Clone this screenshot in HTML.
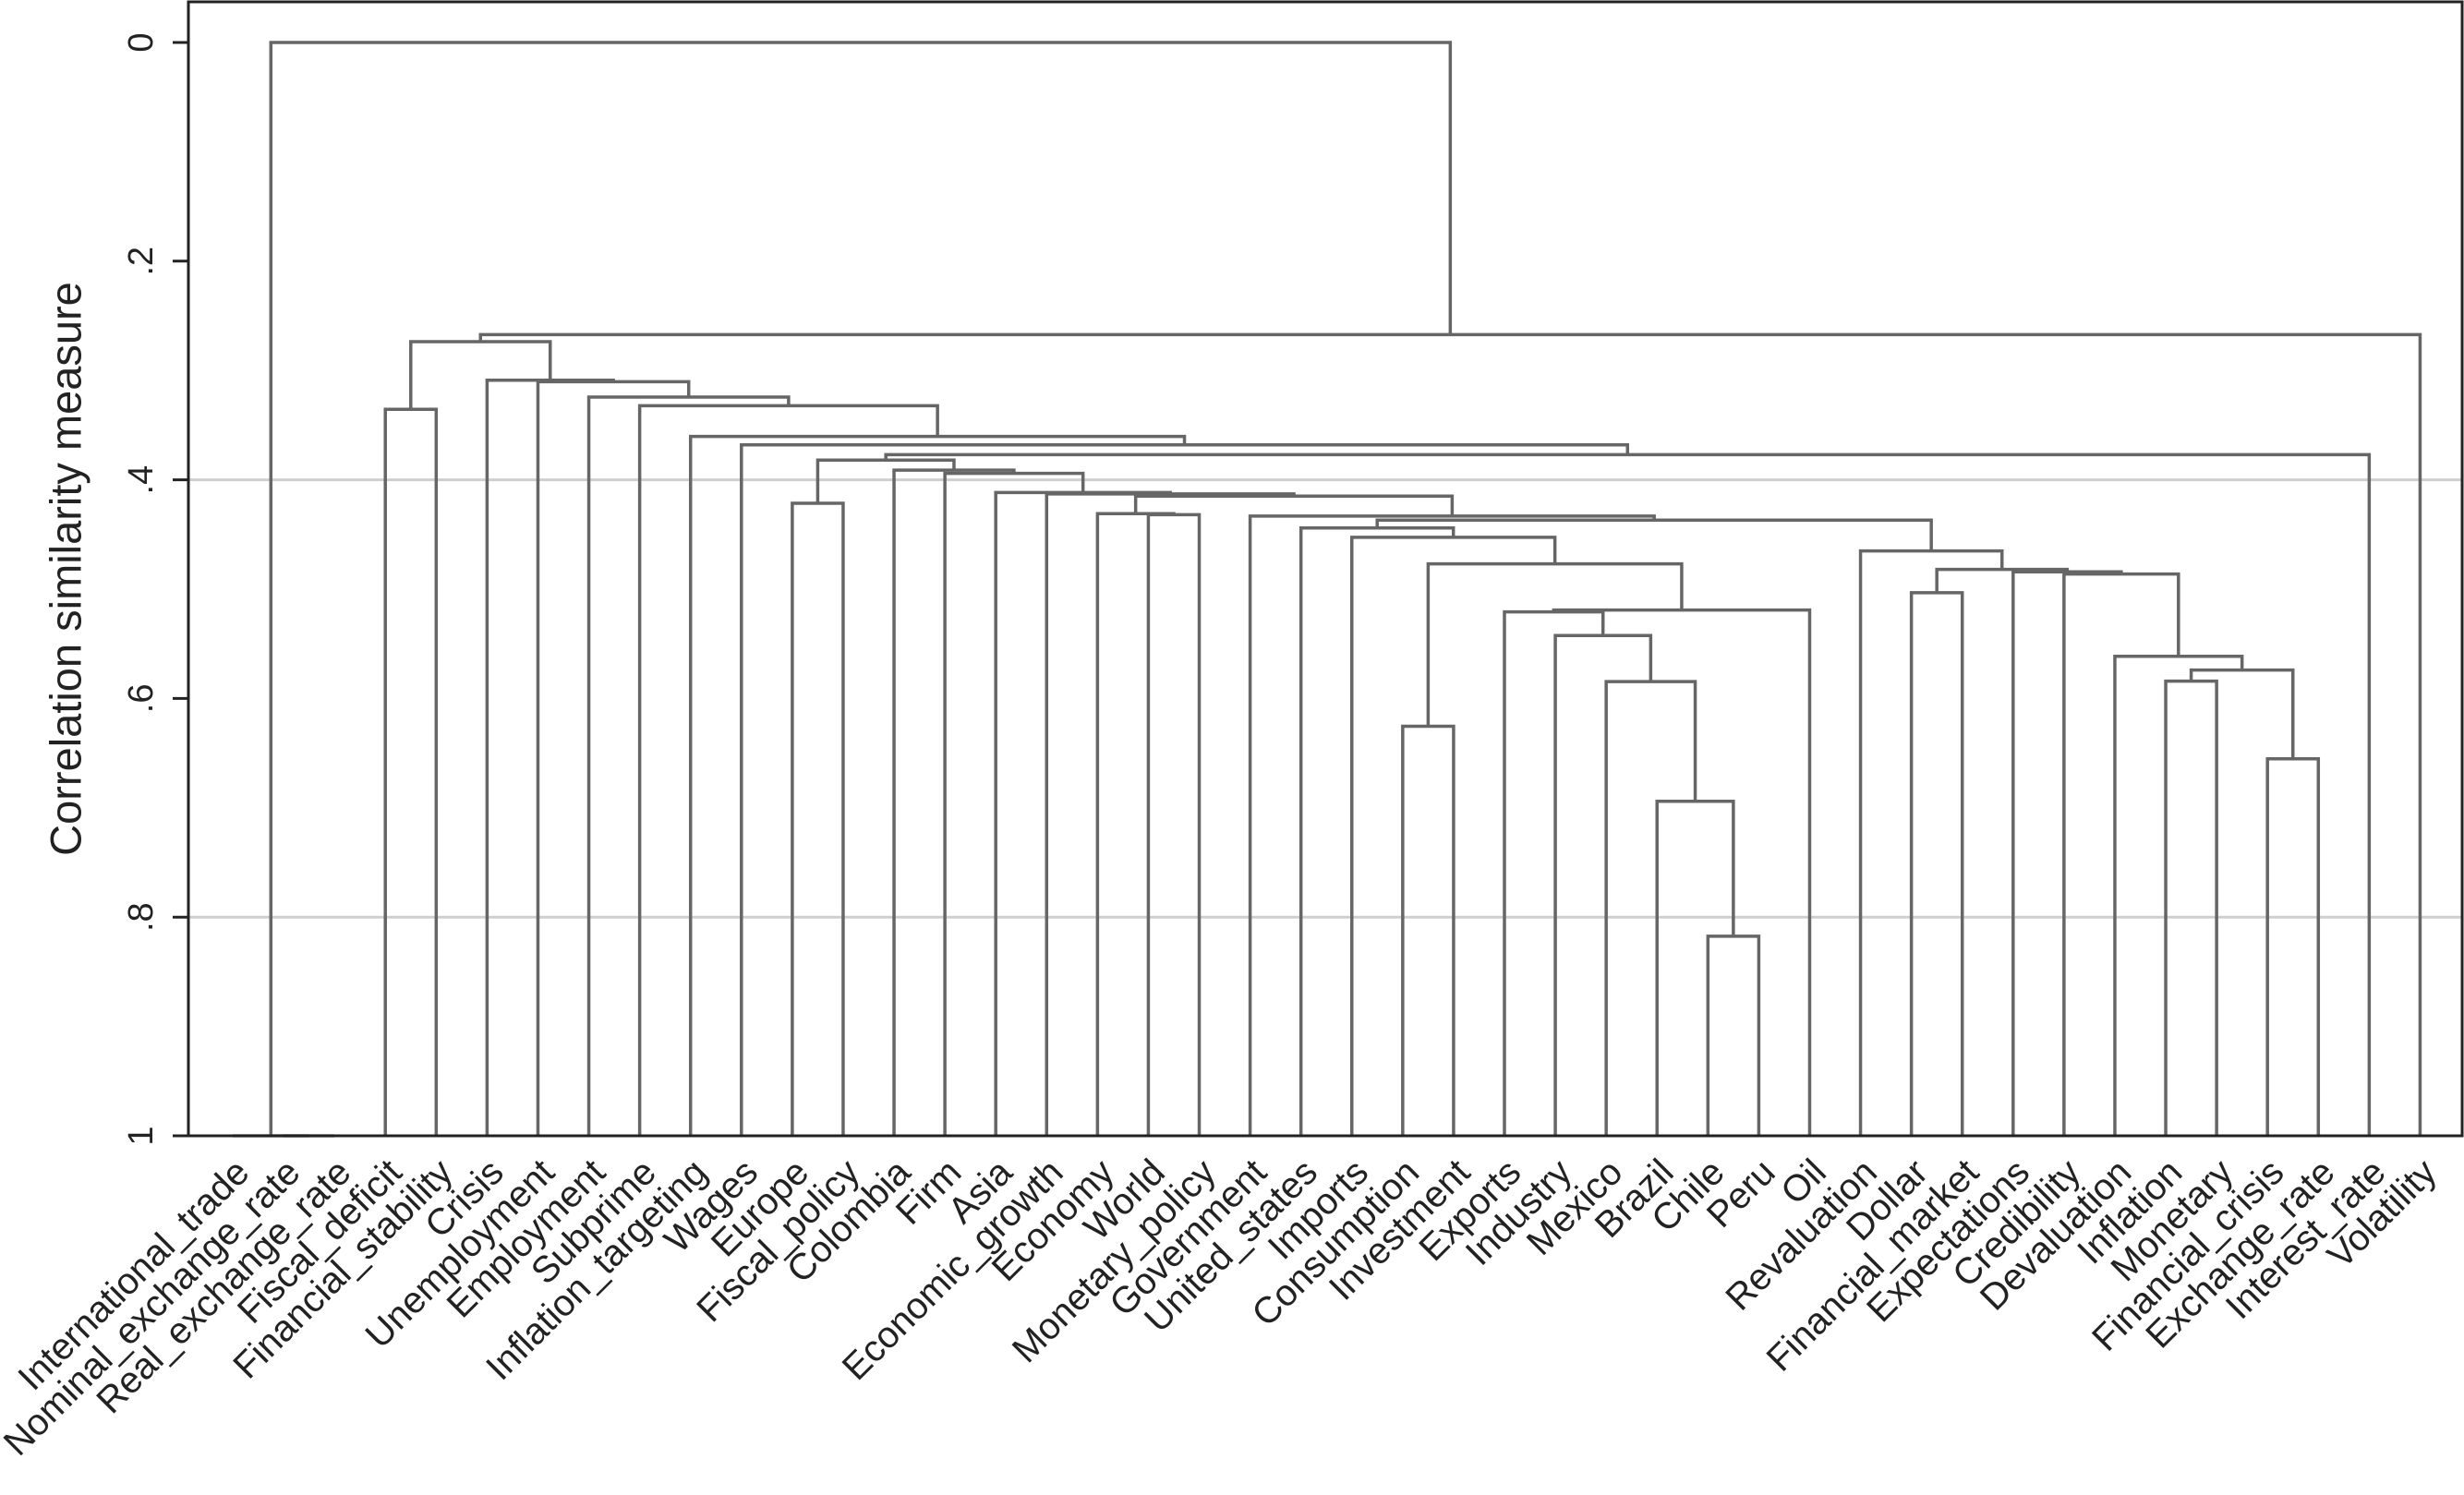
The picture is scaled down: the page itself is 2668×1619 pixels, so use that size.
<!DOCTYPE html>
<html><head><meta charset="utf-8"><style>
html,body{margin:0;padding:0;background:#fff;}
svg{display:block;font-family:"Liberation Sans",Arial,sans-serif;}
</style></head><body>
<svg id="chart" width="2668" height="1619" viewBox="0 0 2668 1619" xmlns="http://www.w3.org/2000/svg">
<rect x="0" y="0" width="2668" height="1619" fill="#fff"/>
<g id="grid"></g>
<g id="tree"></g>
<g id="axes"></g>
<g id="labels"></g>
<text x="0" y="0" transform="translate(71,616) rotate(-90)" text-anchor="middle" dominant-baseline="central" font-size="47" fill="#222">Correlation similarity measure</text>
</svg>
<script>
const leafLabels = ["International_trade","Nominal_exchange_rate","Real_exchange_rate","Fiscal_deficit","Financial_stability","Crisis","Unemployment","Employment","Subprime","Inflation_targeting","Wages","Europe","Fiscal_policy","Colombia","Firm","Asia","Economic_growth","Economy","World","Monetary_policy","Government","United_states","Imports","Consumption","Investment","Exports","Industry","Mexico","Brazil","Chile","Peru","Oil","Revaluation","Dollar","Financial_market","Expectations","Credibility","Devaluation","Inflation","Monetary","Financial_crisis","Exchange_rate","Interest_rate","Volatility"];
const mergeNames  = ["NR","IT","FP","J","WM","P","W","CC","BB","AA","Z","Y","X","V","U","S","EE","KK","JJ","II","HH","GG","FF","DD","T","R","Q","O","N","M","L","K","I","H","G","F","E","D","C","B","A","TOP","ROOT"];
const mergeLeft   = [1,0,3,11,18,17,23,29,28,27,26,25,"Y","W",22,21,33,40,38,"JJ",37,36,35,"EE",32,"S",20,"P",16,15,14,13,"J","I",10,9,8,7,6,5,"FP","A","IT"];
const mergeRight  = [2,"NR",4,12,19,"WM",24,30,"CC","BB","AA","Z",31,"X","V","U",34,41,39,"KK","II","HH","GG","FF","DD","T","R","Q","O","N","M","L","K",42,"H","G","F","E","D","C","B",43,"TOP"];
const mergeHeight = [1.0,1.0,0.3355,0.4214,0.4319,0.4310,0.6254,0.8175,0.6940,0.5846,0.5424,0.5208,0.5191,0.4769,0.4526,0.4440,0.5033,0.6552,0.5841,0.5740,0.5614,0.4862,0.4842,0.4819,0.4651,0.4369,0.4332,0.4149,0.4129,0.4116,0.3941,0.3912,0.3820,0.3770,0.3680,0.3603,0.3322,0.3243,0.3103,0.3089,0.2737,0.2672,0];
const yTickValues = [0,0.2,0.4,0.6,0.8,1];
const yTickLabels = ["0",".2",".4",".6",".8","1"];
const gridValues = [0.4,0.8];

const NS="http://www.w3.org/2000/svg";
const X0=204, X1=2666, Y0=46, YS=1184, LX0=252, LDX=55.08;
function xLeaf(i){return LX0+LDX*i;}
function yScale(v){return Y0+v*YS;}
function mk(tag,attrs,parent){const e=document.createElementNS(NS,tag);for(const k in attrs)e.setAttribute(k,attrs[k]);parent.appendChild(e);return e;}

const grid=document.getElementById('grid');
gridValues.forEach(v=>{
  const l=mk('line',{x1:X0,x2:X1,y1:yScale(v),y2:yScale(v),stroke:'#cfcfcf','stroke-width':3},grid);
  
  
});

// node positions
const pos={};
for(let i=0;i<leafLabels.length;i++){pos[i]={x:xLeaf(i),y:yScale(1)};}
function getNode(r){return pos[r];}
const tree=document.getElementById('tree');
for(let k=0;k<mergeNames.length;k++){
  const a=getNode(mergeLeft[k]), b=getNode(mergeRight[k]);
  const yh=yScale(mergeHeight[k]);
  const col = mergeHeight[k]>=1 ? '#8a8a8a' : '#666';
  const p=mk('path',{d:`M${a.x},${a.y}V${yh}H${b.x}V${b.y}`,fill:'none',stroke:col,'stroke-width':3.5,'stroke-linejoin':'miter'},tree);
  
  
  pos[mergeNames[k]]={x:(a.x+b.x)/2,y:yh};
}

const axes=document.getElementById('axes');
const frame=mk('rect',{x:X0,y:2,width:X1-X0,height:yScale(1)-2,fill:'none',stroke:'#222','stroke-width':3},axes);


yTickValues.forEach((v,i)=>{
  const t=mk('line',{x1:187,x2:X0,y1:yScale(v),y2:yScale(v),stroke:'#222','stroke-width':3},axes);
  
  
  const tx=mk('text',{transform:`translate(153,${yScale(v)}) rotate(-90)`,'text-anchor':'middle','dominant-baseline':'central','font-size':38,fill:'#222'},axes);
  tx.textContent=yTickLabels[i];
  
  
});

const labels=document.getElementById('labels');
leafLabels.forEach((s,i)=>{
  const t=mk('text',{transform:`translate(${xLeaf(i)+20},1272) rotate(-45)`,'text-anchor':'end','font-size':40,fill:'#222'},labels);
  t.textContent=s;
  
  
});
</script>
</body></html>
